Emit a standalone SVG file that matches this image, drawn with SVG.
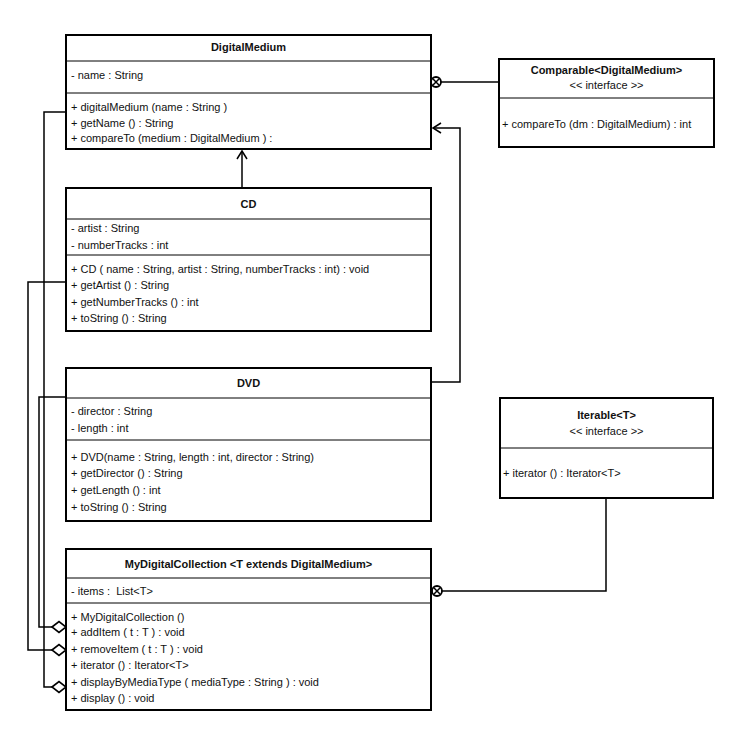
<svg xmlns="http://www.w3.org/2000/svg" width="744" height="736" viewBox="0 0 744 736">
<defs>
<style>
.box{fill:#fff;stroke:#000;stroke-width:2}
.div{stroke:#000;stroke-width:1}
text{font-family:"Liberation Sans",Arial,sans-serif;font-size:11px;fill:#111}
.t{font-weight:bold;text-anchor:middle}
.c{text-anchor:middle}
.ln{fill:none;stroke:#000;stroke-width:1.5}
.dia{fill:#fff;stroke:#000;stroke-width:1.6}
.cp{fill:#fff;stroke:#000;stroke-width:1.8}
</style>
</defs>
<rect width="744" height="736" fill="#fff"/>
<g id="connectors">
<path class="ln" d="M242,188 V151"/>
<path class="ln" d="M237,159 L242,151 L247,159"/>
<path class="ln" d="M431,382 H460 V128 H433"/>
<path class="ln" d="M441,123 L433,128 L441,133"/>
<path class="ln" d="M499,82 H441"/>
<circle class="cp" cx="436" cy="82" r="5"/>
<path class="ln" d="M432.8,78.8 L439.2,85.2 M439.2,78.8 L432.8,85.2" stroke-width="1.4"/>
<path class="ln" d="M606,498 V591 H442"/>
<circle class="cp" cx="437" cy="591" r="5"/>
<path class="ln" d="M433.8,587.8 L440.2,594.2 M440.2,587.8 L433.8,594.2" stroke-width="1.4"/>
<path class="ln" d="M66,112 H44 V687 H52"/>
<path class="ln" d="M66,282 H28 V650 H52"/>
<path class="ln" d="M66,397 H39 V627 H52"/>
<path class="dia" d="M52,627 L59,621.5 L66,627 L59,632.5 Z"/>
<path class="dia" d="M52,650 L59,644.5 L66,650 L59,655.5 Z"/>
<path class="dia" d="M52,687 L59,681.5 L66,687 L59,692.5 Z"/>
</g>
<g id="DigitalMedium">
<rect class="box" x="66" y="35" width="365" height="114"/>
<line class="div" x1="66" y1="61" x2="431" y2="61"/>
<line class="div" x1="66" y1="93" x2="431" y2="93"/>
<text class="t" x="248.5" y="51">DigitalMedium</text>
<text x="71" y="79">- name : String</text>
<text x="71" y="111">+ digitalMedium (name : String )</text>
<text x="71" y="127">+ getName () : String</text>
<text x="71" y="142">+ compareTo (medium : DigitalMedium ) :</text>
</g>
<g id="Comparable">
<rect class="box" x="499" y="59" width="215" height="88"/>
<line class="div" x1="499" y1="98" x2="714" y2="98"/>
<text class="t" x="606.5" y="74">Comparable&lt;DigitalMedium&gt;</text>
<text class="c" x="606.5" y="89">&lt;&lt; interface &gt;&gt;</text>
<text x="502" y="128">+ compareTo (dm : DigitalMedium) : int</text>
</g>
<g id="CD">
<rect class="box" x="66" y="188" width="365" height="143"/>
<line class="div" x1="66" y1="219" x2="431" y2="219"/>
<line class="div" x1="66" y1="255" x2="431" y2="255"/>
<text class="t" x="248.5" y="208">CD</text>
<text x="71" y="232">- artist : String</text>
<text x="71" y="249">- numberTracks : int</text>
<text x="71" y="273">+ CD ( name : String, artist : String, numberTracks : int) : void</text>
<text x="71" y="289">+ getArtist () : String</text>
<text x="71" y="306">+ getNumberTracks () : int</text>
<text x="71" y="322">+ toString () : String</text>
</g>
<g id="DVD">
<rect class="box" x="66" y="368" width="365" height="153"/>
<line class="div" x1="66" y1="398" x2="431" y2="398"/>
<line class="div" x1="66" y1="440" x2="431" y2="440"/>
<text class="t" x="248.5" y="387">DVD</text>
<text x="71" y="415">- director : String</text>
<text x="71" y="432">- length : int</text>
<text x="71" y="461">+ DVD(name : String, length : int, director : String)</text>
<text x="71" y="477">+ getDirector () : String</text>
<text x="71" y="494">+ getLength () : int</text>
<text x="71" y="511">+ toString () : String</text>
</g>
<g id="Iterable">
<rect class="box" x="500" y="398" width="213" height="100"/>
<line class="div" x1="500" y1="448" x2="713" y2="448"/>
<text class="t" x="606.5" y="419">Iterable&lt;T&gt;</text>
<text class="c" x="606.5" y="435">&lt;&lt; interface &gt;&gt;</text>
<text x="503" y="477">+ iterator () : Iterator&lt;T&gt;</text>
</g>
<g id="MyDigitalCollection">
<rect class="box" x="66" y="549" width="365" height="161"/>
<line class="div" x1="66" y1="578" x2="431" y2="578"/>
<line class="div" x1="66" y1="603" x2="431" y2="603"/>
<text class="t" x="248.5" y="568">MyDigitalCollection &lt;T extends DigitalMedium&gt;</text>
<text x="71" y="595" xml:space="preserve">- items :  List&lt;T&gt;</text>
<text x="71" y="621">+ MyDigitalCollection ()</text>
<text x="71" y="636">+ addItem ( t : T ) : void</text>
<text x="71" y="653">+ removeItem ( t : T ) : void</text>
<text x="71" y="669">+ iterator () : Iterator&lt;T&gt;</text>
<text x="71" y="686">+ displayByMediaType ( mediaType : String ) : void</text>
<text x="71" y="702">+ display () : void</text>
</g>
</svg>
